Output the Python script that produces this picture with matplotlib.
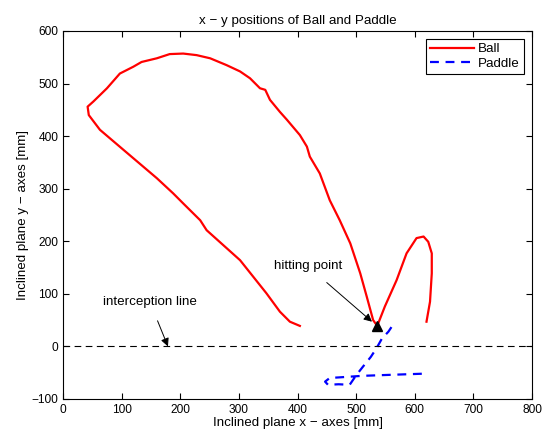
import numpy as np
import matplotlib.pyplot as plt

plt.rcParams['font.family'] = ['Liberation Sans', 'DejaVu Sans']

# траектория мяча (x, y) в мм
ball_x = [404, 387, 370, 347, 302, 245, 234, 205, 188, 160, 103, 63, 44, 42, 52, 75, 97, 120,
          134, 160, 182, 205, 228, 251, 279, 302, 319, 336, 345, 353, 370, 382, 404, 416, 421,
          438, 455, 472, 490, 507, 518, 529, 536, 549, 569, 586, 603, 615, 623, 629, 629, 626, 620]
ball_y = [39, 47, 66, 101, 164, 221, 240, 272, 291, 320, 374, 412, 440, 456, 466, 491, 519, 532,
          541, 548, 556, 557, 554, 548, 535, 523, 510, 491, 488, 469, 446, 431, 402, 380, 361,
          329, 278, 240, 196, 139, 95, 50, 39, 76, 126, 177, 206, 209, 199, 177, 139, 85, 47]

# траектория ракетки
paddle_x = [612, 560, 510, 470, 455, 447, 452, 470, 489, 500, 512, 525, 535, 544, 555, 561]
paddle_y = [-52, -54, -56, -59, -60, -67, -73, -72, -73, -55, -38, -20, -3, 15, 28, 38]

hit_x, hit_y = 536, 39

fs = 9.6   # подписи
tfs = 8.6  # деления

fig = plt.figure(figsize=(5.44, 4.36), dpi=100)
ax = fig.add_axes([0.1158, 0.0849, 0.8622, 0.8441])

ax.plot(ball_x, ball_y, color='red', lw=1.6, label='Ball')
ax.plot(paddle_x, paddle_y, color='blue', lw=1.6, ls=(0, (4, 3)), label='Paddle')
ax.axhline(0, color='black', lw=0.8, ls=(0, (6, 4)))
ax.plot([hit_x], [hit_y], marker='^', color='black', ms=7, ls='none')

arrow = dict(arrowstyle='-|>', color='black', lw=0.7, shrinkA=8, shrinkB=0,
             mutation_scale=12)
ax.annotate('interception line', xy=(179, 0), xytext=(68, 85), fontsize=fs,
            va='center', ha='left', arrowprops=arrow)
ax.annotate('hitting point', xy=(527, 47), xytext=(360, 152), fontsize=fs,
            va='center', ha='left', arrowprops=arrow)

ax.set_xlim(0, 800)
ax.set_ylim(-100, 600)
ax.set_xticks(np.arange(0, 801, 100))
ax.set_yticks(np.arange(-100, 601, 100))
ax.tick_params(direction='in', top=True, right=True, labelsize=tfs, length=4)
ax.set_yticklabels(['\u2212100'] + [str(v) for v in range(0, 601, 100)])
ax.set_xlabel('Inclined plane x \u2212 axes [mm]', fontsize=fs, labelpad=1)
ax.set_ylabel('Inclined plane y \u2212 axes [mm]', fontsize=fs, labelpad=2)
ax.set_title('x \u2212 y positions of Ball and Paddle', fontsize=fs, pad=5)

leg = ax.legend(loc='upper right', fontsize=fs, fancybox=False, framealpha=1,
                edgecolor='black', handlelength=3.3, borderaxespad=0.6,
                handletextpad=0.3, labelspacing=0.15, borderpad=0.3)
leg.get_frame().set_linewidth(0.8)

fig.savefig('out.png', dpi=100)
